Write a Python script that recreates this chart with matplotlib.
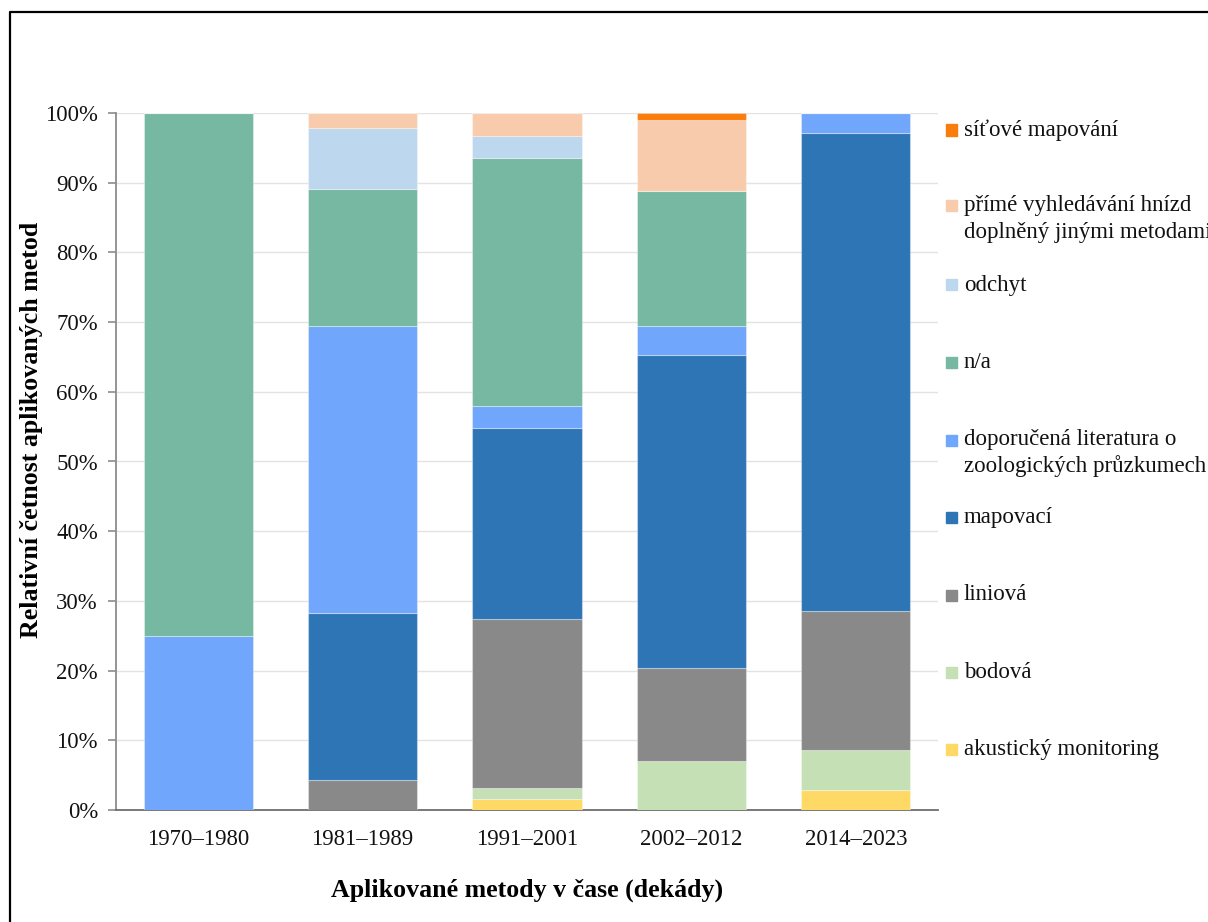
import matplotlib
matplotlib.use("Agg")
import matplotlib.pyplot as plt
from matplotlib.patches import Rectangle
from matplotlib.lines import Line2D
import numpy as np

plt.rcParams['font.family'] = ['Liberation Serif', 'DejaVu Serif']

categories = ["1970–1980", "1981–1989", "1991–2001", "2002–2012", "2014–2023"]

series_names = [
    "akustický monitoring",
    "bodová",
    "liniová",
    "mapovací",
    "doporučená literatura o\nzoologických průzkumech",
    "n/a",
    "odchyt",
    "přímé vyhledávání hnízd\ndoplněný jinými metodami",
    "síťové mapování",
]

akusticky = [0.0, 0.0, 1.6, 0.0, 2.9]
bodova = [0.0, 0.0, 1.6, 7.1, 5.7]
liniova = [0.0, 4.3, 24.2, 13.3, 20.0]
mapovaci = [0.0, 23.9, 27.4, 44.9, 68.6]
doporucena = [25.0, 41.3, 3.2, 4.1, 2.8]
na = [75.0, 19.6, 35.5, 19.4, 0.0]
odchyt = [0.0, 8.7, 3.2, 0.0, 0.0]
prime = [0.0, 2.2, 3.3, 10.2, 0.0]
sitove = [0.0, 0.0, 0.0, 1.0, 0.0]

series_values = [akusticky, bodova, liniova, mapovaci, doporucena, na, odchyt, prime, sitove]

colors = ["#FFD966", "#C5E0B4", "#898989", "#2E75B6", "#70A6FC",
          "#76B8A1", "#BDD7EE", "#F8CBAD", "#F97D0D"]

yticks = [0, 10, 20, 30, 40, 50, 60, 70, 80, 90, 100]
ytick_labels = [f"{v}%" for v in yticks]

W, H = 1208, 922
fig = plt.figure(figsize=(W / 100, H / 100), dpi=100)
ax_left, ax_right, ax_top, ax_bottom = 116, 938, 113, 810
ax = fig.add_axes([ax_left / W, 1 - ax_bottom / H, (ax_right - ax_left) / W, (ax_bottom - ax_top) / H])

x = np.arange(len(categories))
bottom = np.zeros(len(categories))
for vals, col in zip(series_values, colors):
    v = np.array(vals)
    ax.bar(x, v, width=0.665, bottom=bottom, color=col, edgecolor=(1, 1, 1, 0.35), linewidth=0.8, zorder=3)
    bottom += v

ax.set_xlim(-0.5, len(categories) - 0.5)
ax.set_ylim(0, 100)
ax.set_yticks(yticks)
ax.set_yticklabels(ytick_labels, fontsize=16.4)
ax.set_xticks(x)
ax.set_xticklabels(categories, fontsize=16.4)
ax.yaxis.grid(True, color="#E3E3E3", linewidth=1, zorder=0)
ax.set_axisbelow(True)

for s in ["top", "right"]:
    ax.spines[s].set_visible(False)
ax.spines["left"].set_color("#8C8C8C")
ax.spines["left"].set_linewidth(1.3)
ax.spines["bottom"].set_color("#6E6E6E")
ax.spines["bottom"].set_linewidth(1.3)
ax.tick_params(axis="y", direction="out", length=6, width=1.2, color="#8C8C8C", pad=7, labelcolor="#111111")
ax.tick_params(axis="x", length=0, pad=14, labelcolor="#111111")

ax.set_xlabel("Aplikované metody v čase (dekády)", fontsize=18.6, fontweight="bold", labelpad=20)
fig.text(32 / W, 1 - 430 / H, "Relativní četnost aplikovaných metod", rotation=90,
         fontsize=18.6, fontweight="bold", ha="center", va="center")

# legend (manual, reverse order)
legend_y = [130, 206, 285, 362, 440, 517, 595, 672, 749]
for name, col, yy in zip(series_names[::-1], colors[::-1], legend_y):
    fig.patches.append(Rectangle((946 / W, 1 - (yy + 5.5) / H), 11 / W, 11 / H,
                                 transform=fig.transFigure, color=col, figure=fig))
    for i, line in enumerate(name.split("\n")):
        fig.text(964 / W, 1 - (yy + 26.5 * i) / H, line, fontsize=16.5, ha="left", va="center", color="#111111")

# figure border
fig.lines.append(Line2D([10 / W, 10 / W, 1.0], [0, 1 - 12.5 / H, 1 - 12.5 / H],
                        transform=fig.transFigure, color="black", linewidth=1.6, figure=fig))

fig.savefig("out.png", dpi=100)
